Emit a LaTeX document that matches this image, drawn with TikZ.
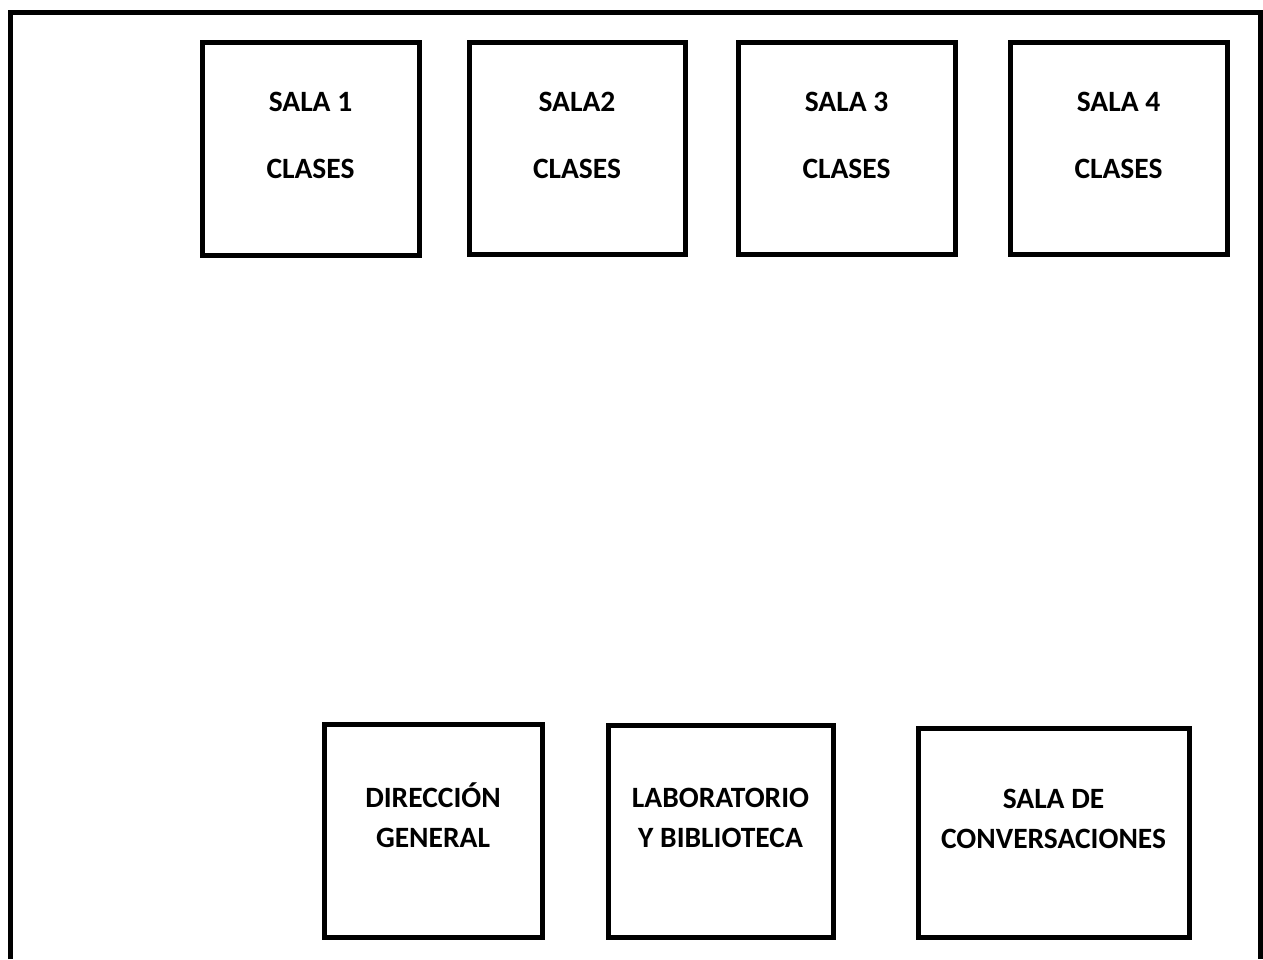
\documentclass[tikz,border=0pt]{standalone}
\usepackage{fontspec}
\setmainfont{Carlito}

\begin{document}
\begin{tikzpicture}[x=1pt,y=-1pt,
  sala/.style={draw,line width=5pt,inner sep=0pt},
  arriba/.style={font=\bfseries\fontsize{29.5}{67}\selectfont,align=center,anchor=base},
  abajo/.style={font=\bfseries\fontsize{29.5}{40}\selectfont,align=center,anchor=base}]
  \useasboundingbox (0,0) rectangle (1263,959);
  % muro exterior, abierto abajo
  \coordinate (ei) at (10,959);
  \coordinate (ed) at (1260,959);
  \draw[line width=5pt] (ei) -- (10,12) -- (1260,12) -- (ed);
  % salas de clases
  \node[sala,minimum width=217,minimum height=213] (sala1) at (310.5,148.5) {};
  \node[sala,minimum width=216,minimum height=212] (sala2) at (577,148) {};
  \node[sala,minimum width=217,minimum height=212] (sala3) at (846.5,148) {};
  \node[sala,minimum width=217,minimum height=212] (sala4) at (1118.5,148) {};
  \node[arriba] (t1) at ([yshift=-139pt]sala1.north) {SALA 1\\CLASES};
  \node[arriba] (t2) at ([yshift=-139pt]sala2.north) {SALA2\\CLASES};
  \node[arriba] (t3) at ([yshift=-139pt]sala3.north) {SALA 3\\CLASES};
  \node[arriba] (t4) at ([yshift=-139pt]sala4.north) {SALA 4\\CLASES};
  % salas de abajo
  \node[sala,minimum width=218,minimum height=213] (dir) at (433,830.5) {};
  \node[sala,minimum width=225,minimum height=212] (lab) at (720.5,831) {};
  \node[sala,minimum width=271,minimum height=209] (conv) at (1053.5,832.5) {};
  \node[abajo] (tdir) at ([yshift=-126pt]dir.north) {DIRECCIÓN\\GENERAL};
  \node[abajo] (tlab) at ([yshift=-125pt]lab.north) {LABORATORIO\\Y BIBLIOTECA};
  \node[abajo] (tconv) at ([yshift=-123pt]conv.north) {SALA DE\\CONVERSACIONES};
\end{tikzpicture}
\end{document}
